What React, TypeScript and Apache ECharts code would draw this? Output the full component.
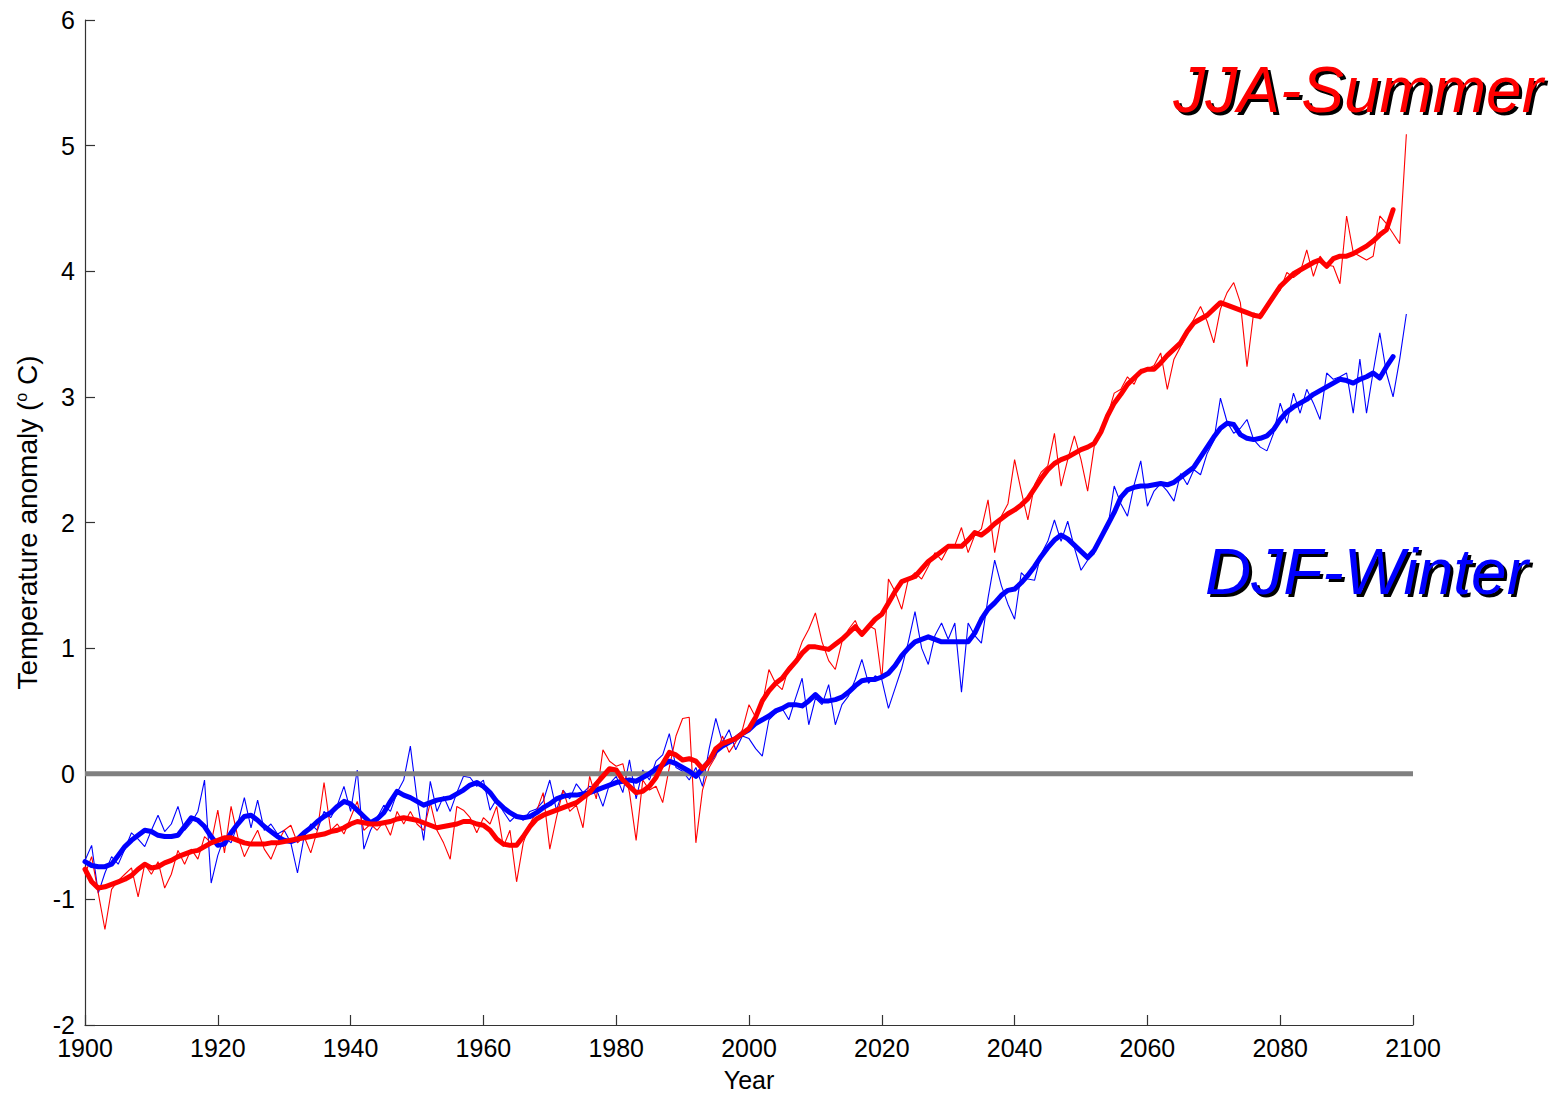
import React, { useEffect, useRef } from "react";
import * as echarts from "echarts";

const START_YEAR = 1900;

const xTicks = [1900, 1920, 1940, 1960, 1980, 2000, 2020, 2040, 2060, 2080, 2100];
const yTicks = [-2, -1, 0, 1, 2, 3, 4, 5, 6];

// Annual DJF (winter) anomaly, 1900-2099
const djfAnnual = [
  -0.69, -0.57, -0.95, -0.79, -0.66, -0.72, -0.60, -0.47, -0.52, -0.58,
  -0.45, -0.33, -0.46, -0.40, -0.26, -0.45, -0.39, -0.30, -0.05, -0.87,
  -0.65, -0.50, -0.55, -0.40, -0.19, -0.43, -0.21, -0.45, -0.40, -0.48,
  -0.45, -0.55, -0.79, -0.50, -0.40, -0.45, -0.30, -0.35, -0.25, -0.10,
  -0.30, 0.03, -0.60, -0.45, -0.35, -0.25, -0.30, -0.15, -0.05, 0.22,
  -0.20, -0.53, -0.06, -0.30, -0.18, -0.30, -0.15, -0.02, -0.03, -0.10,
  -0.05, -0.29, -0.20, -0.30, -0.38, -0.33, -0.37, -0.30, -0.28, -0.22,
  -0.05, -0.29, -0.13, -0.20, -0.08, -0.15, -0.10, -0.12, -0.26, -0.08,
  -0.02, -0.15, 0.11, -0.20, 0.03, -0.05, 0.10, 0.15, 0.32, 0.05,
  0.02, -0.05, 0.05, -0.10, 0.20, 0.44, 0.25, 0.35, 0.19, 0.30,
  0.28, 0.20, 0.14, 0.43, 0.48, 0.52, 0.43, 0.60, 0.76, 0.39,
  0.60, 0.55, 0.71, 0.39, 0.55, 0.62, 0.75, 0.91, 0.72, 0.78,
  0.75, 0.52, 0.68, 0.84, 1.05, 1.29, 1.00, 0.87, 1.10, 1.20,
  1.07, 1.20, 0.65, 1.20, 1.10, 1.04, 1.40, 1.70, 1.50, 1.35,
  1.23, 1.60, 1.55, 1.54, 1.75, 1.85, 2.02, 1.85, 2.01, 1.80,
  1.62, 1.70, 1.75, 1.90, 1.95, 2.29, 2.15, 2.05, 2.30, 2.49,
  2.13, 2.25, 2.31, 2.25, 2.17, 2.39, 2.30, 2.42, 2.38, 2.55,
  2.65, 2.99, 2.80, 2.71, 2.75, 2.82, 2.66, 2.60, 2.57, 2.71,
  2.95, 2.79, 3.03, 2.87, 3.06, 2.95, 2.82, 3.19, 3.14, 3.16,
  3.19, 2.87, 3.30, 2.87, 3.20, 3.51, 3.19, 3.00, 3.30, 3.66,
];

// Annual JJA (summer) anomaly, 1900-2099
const jjaAnnual = [
  -0.80, -0.66, -0.95, -1.24, -0.92, -0.85, -0.80, -0.75, -0.98, -0.72,
  -0.80, -0.70, -0.91, -0.80, -0.61, -0.72, -0.60, -0.68, -0.50, -0.55,
  -0.29, -0.63, -0.26, -0.50, -0.66, -0.55, -0.45, -0.60, -0.68, -0.55,
  -0.45, -0.41, -0.55, -0.50, -0.63, -0.45, -0.07, -0.45, -0.40, -0.48,
  -0.35, -0.22, -0.45, -0.40, -0.45, -0.38, -0.49, -0.30, -0.40, -0.30,
  -0.40, -0.45, -0.23, -0.45, -0.55, -0.68, -0.26, -0.29, -0.35, -0.47,
  -0.35, -0.40, -0.26, -0.58, -0.45, -0.86, -0.55, -0.40, -0.30, -0.15,
  -0.60, -0.35, -0.13, -0.30, -0.25, -0.43, -0.02, -0.20, 0.19, 0.10,
  0.06, 0.08, -0.15, -0.53, -0.05, -0.13, -0.10, -0.23, 0.05, 0.30,
  0.44, 0.45, -0.55, -0.13, 0.05, 0.14, 0.30, 0.17, 0.25, 0.35,
  0.55, 0.45, 0.55, 0.83, 0.72, 0.67, 0.85, 0.90, 1.05, 1.15,
  1.28, 1.05, 0.90, 0.83, 1.05, 1.15, 1.22, 1.09, 1.18, 1.15,
  0.75, 1.55, 1.45, 1.31, 1.55, 1.60, 1.55, 1.65, 1.76, 1.70,
  1.80, 1.82, 1.96, 1.76, 1.90, 1.95, 2.18, 1.76, 2.05, 2.15,
  2.50, 2.25, 2.02, 2.30, 2.40, 2.45, 2.71, 2.29, 2.50, 2.69,
  2.50, 2.25, 2.61, 2.70, 2.85, 3.03, 3.06, 3.16, 3.10, 3.22,
  3.22, 3.25, 3.35, 3.06, 3.30, 3.40, 3.50, 3.62, 3.72, 3.60,
  3.43, 3.70, 3.83, 3.91, 3.75, 3.24, 3.67, 3.62, 3.70, 3.80,
  3.85, 3.99, 3.95, 3.99, 4.17, 3.96, 4.12, 4.05, 4.04, 3.90,
  4.44, 4.15, 4.12, 4.09, 4.12, 4.44, 4.38, 4.30, 4.22, 5.09,
];

// Smoothed DJF, 1900-2097
const djfSmooth = [
  -0.70, -0.73, -0.74, -0.74, -0.72, -0.65, -0.58, -0.53, -0.49, -0.45,
  -0.46, -0.49, -0.50, -0.50, -0.49, -0.42, -0.35, -0.37, -0.42, -0.50,
  -0.57, -0.56, -0.47, -0.40, -0.34, -0.33, -0.37, -0.42, -0.46, -0.50,
  -0.53, -0.54, -0.52, -0.47, -0.43, -0.38, -0.34, -0.31, -0.26, -0.22,
  -0.24, -0.29, -0.34, -0.39, -0.36, -0.31, -0.22, -0.14, -0.17, -0.19,
  -0.22, -0.25, -0.23, -0.21, -0.20, -0.19, -0.16, -0.13, -0.09, -0.07,
  -0.10, -0.15, -0.22, -0.27, -0.31, -0.34, -0.35, -0.34, -0.31, -0.27,
  -0.24, -0.20, -0.18, -0.17, -0.17, -0.16, -0.15, -0.13, -0.11, -0.09,
  -0.07, -0.06, -0.05, -0.06, -0.03, 0.00, 0.04, 0.07, 0.10, 0.08,
  0.05, 0.02, -0.02, 0.04, 0.10, 0.18, 0.22, 0.25, 0.28, 0.32,
  0.35, 0.40, 0.43, 0.46, 0.50, 0.52, 0.55, 0.55, 0.54, 0.58,
  0.63, 0.58, 0.58, 0.59, 0.61, 0.65, 0.70, 0.74, 0.75, 0.75,
  0.77, 0.80, 0.86, 0.94, 1.00, 1.05, 1.07, 1.09, 1.07, 1.05,
  1.05, 1.05, 1.05, 1.05, 1.12, 1.23, 1.31, 1.36, 1.42, 1.46,
  1.47, 1.52, 1.58, 1.65, 1.73, 1.80, 1.86, 1.90, 1.87, 1.82,
  1.77, 1.72, 1.78, 1.88, 1.98, 2.08, 2.20, 2.26, 2.28, 2.29,
  2.29, 2.30, 2.31, 2.30, 2.32, 2.36, 2.40, 2.44, 2.52, 2.60,
  2.68, 2.75, 2.79, 2.78, 2.70, 2.67, 2.66, 2.67, 2.69, 2.74,
  2.82, 2.88, 2.92, 2.95, 2.98, 3.02, 3.05, 3.08, 3.11, 3.14,
  3.13, 3.11, 3.14, 3.16, 3.19, 3.15, 3.24, 3.32,
];

// Smoothed JJA, 1900-2097
const jjaSmooth = [
  -0.76, -0.86, -0.91, -0.90, -0.88, -0.86, -0.84, -0.81, -0.76, -0.72,
  -0.75, -0.74, -0.71, -0.69, -0.66, -0.64, -0.62, -0.61, -0.58, -0.55,
  -0.53, -0.51, -0.51, -0.53, -0.55, -0.56, -0.56, -0.56, -0.55, -0.55,
  -0.54, -0.53, -0.52, -0.51, -0.50, -0.49, -0.48, -0.46, -0.45, -0.43,
  -0.40, -0.38, -0.39, -0.40, -0.40, -0.39, -0.38, -0.36, -0.35, -0.36,
  -0.37, -0.39, -0.41, -0.43, -0.42, -0.41, -0.40, -0.38, -0.38, -0.40,
  -0.41, -0.45, -0.52, -0.56, -0.57, -0.57, -0.50, -0.42, -0.36, -0.33,
  -0.31, -0.29, -0.27, -0.25, -0.23, -0.19, -0.15, -0.08, -0.02, 0.04,
  0.03, -0.05, -0.10, -0.15, -0.14, -0.10, -0.03, 0.08, 0.17, 0.15,
  0.11, 0.12, 0.10, 0.04, 0.10, 0.20, 0.24, 0.26, 0.28, 0.32,
  0.36, 0.45, 0.58, 0.66, 0.72, 0.76, 0.83, 0.89, 0.96, 1.01,
  1.01, 1.00, 0.99, 1.03, 1.07, 1.12, 1.17, 1.11, 1.17, 1.23,
  1.27, 1.36, 1.45, 1.53, 1.55, 1.57, 1.63, 1.69, 1.73, 1.77,
  1.81, 1.81, 1.81, 1.86, 1.92, 1.90, 1.94, 1.99, 2.03, 2.07,
  2.10, 2.14, 2.19, 2.27, 2.35, 2.42, 2.47, 2.50, 2.52, 2.55,
  2.58, 2.60, 2.63, 2.72, 2.85, 2.95, 3.02, 3.10, 3.15, 3.20,
  3.22, 3.22, 3.27, 3.33, 3.38, 3.43, 3.52, 3.59, 3.62, 3.65,
  3.70, 3.75, 3.73, 3.71, 3.69, 3.67, 3.65, 3.64, 3.72, 3.80,
  3.88, 3.93, 3.98, 4.01, 4.04, 4.07, 4.09, 4.04, 4.10, 4.12,
  4.12, 4.14, 4.17, 4.20, 4.24, 4.29, 4.33, 4.49,
];

const zeroLine = [
  [1900, 0],
  [2100, 0],
];

const FONT = "'Liberation Sans Narrow', 'Arial Narrow', 'Liberation Sans', Arial, sans-serif";
const TITLE_FONT = "'Liberation Sans', Arial, sans-serif";

function toPairs(values: number[]) {
  return values.map((v, i) => [START_YEAR + i, v]);
}

export default function App() {
  const ref = useRef<HTMLDivElement>(null);

  useEffect(() => {
    if (!ref.current) return;
    const chart = echarts.init(ref.current, null, { renderer: "svg" });

    const label = (text: string, x: number, y: number, color: string, align: string) => [
      {
        type: "text",
        x: x + 3,
        y: y + 3,
        z: 100,
        style: {
          text,
          fill: "#000",
          font: `italic 64px ${TITLE_FONT}`,
          align,
          verticalAlign: "middle",
        },
      },
      {
        type: "text",
        x,
        y,
        z: 101,
        style: {
          text,
          fill: color,
          font: `italic 64px ${TITLE_FONT}`,
          align,
          verticalAlign: "middle",
        },
      },
    ];

    const option: any = {
      animation: false,
      backgroundColor: "#ffffff",
      grid: {
        left: 85,
        right: 142,
        top: 20,
        bottom: 68,
        containLabel: false,
        outerBoundsMode: "none",
      },
      xAxis: {
        type: "value",
        min: xTicks[0],
        max: xTicks[xTicks.length - 1],
        interval: 20,
        name: "Year",
        nameLocation: "middle",
        nameGap: 42,
        nameTextStyle: { fontSize: 25, color: "#000", fontFamily: FONT },
        axisLine: { show: true, onZero: false, lineStyle: { color: "#333", width: 1.2 } },
        axisTick: { show: true, inside: true, length: 10, lineStyle: { color: "#333", width: 1.2 } },
        axisLabel: {
          fontSize: 25,
          color: "#000",
          fontFamily: FONT,
          margin: 10,
          formatter: (v: number) => String(v),
        },
        splitLine: { show: false },
      },
      yAxis: {
        type: "value",
        min: yTicks[0],
        max: yTicks[yTicks.length - 1],
        interval: 1,
        name: "Temperature anomaly ({sup|o} C)",
        nameLocation: "middle",
        nameGap: 40,
        nameRotate: 90,
        nameTextStyle: {
          fontSize: 28,
          color: "#000",
          fontFamily: FONT,
          rich: {
            sup: { fontSize: 16, color: "#000", fontFamily: FONT, verticalAlign: "top", lineHeight: 28 },
          },
        },
        axisLine: { show: true, onZero: false, lineStyle: { color: "#333", width: 1.2 } },
        axisTick: { show: true, inside: true, length: 10, lineStyle: { color: "#333", width: 1.2 } },
        axisLabel: {
          fontSize: 25,
          color: "#000",
          fontFamily: FONT,
          margin: 10,
          formatter: (v: number) => String(v),
        },
        splitLine: { show: false },
      },
      series: [
        {
          name: "DJF annual",
          type: "line",
          data: toPairs(djfAnnual),
          showSymbol: false,
          symbol: "none",
          lineStyle: { color: "#0000ff", width: 1.1 },
          z: 2,
        },
        {
          name: "JJA annual",
          type: "line",
          data: toPairs(jjaAnnual),
          showSymbol: false,
          symbol: "none",
          lineStyle: { color: "#ff0000", width: 1.1 },
          z: 3,
        },
        {
          name: "zero",
          type: "line",
          data: zeroLine,
          showSymbol: false,
          symbol: "none",
          lineStyle: { color: "#808080", width: 5 },
          z: 4,
        },
        {
          name: "DJF smooth",
          type: "line",
          data: toPairs(djfSmooth),
          showSymbol: false,
          symbol: "none",
          lineStyle: { color: "#0000ff", width: 5, join: "round", cap: "round" },
          z: 5,
        },
        {
          name: "JJA smooth",
          type: "line",
          data: toPairs(jjaSmooth),
          showSymbol: false,
          symbol: "none",
          lineStyle: { color: "#ff0000", width: 5, join: "round", cap: "round" },
          z: 6,
        },
      ],
      graphic: [
        ...label("JJA-Summer", 1543, 90, "#ff0000", "right"),
        ...label("DJF-Winter", 1528, 572, "#0000ff", "right"),
      ],
    };

    chart.setOption(option);
    return () => chart.dispose();
  }, []);

  return (
    <div
      ref={ref}
      style={{ position: "absolute", left: 0, top: 0, width: 1555, height: 1093, background: "#fff" }}
    />
  );
}
